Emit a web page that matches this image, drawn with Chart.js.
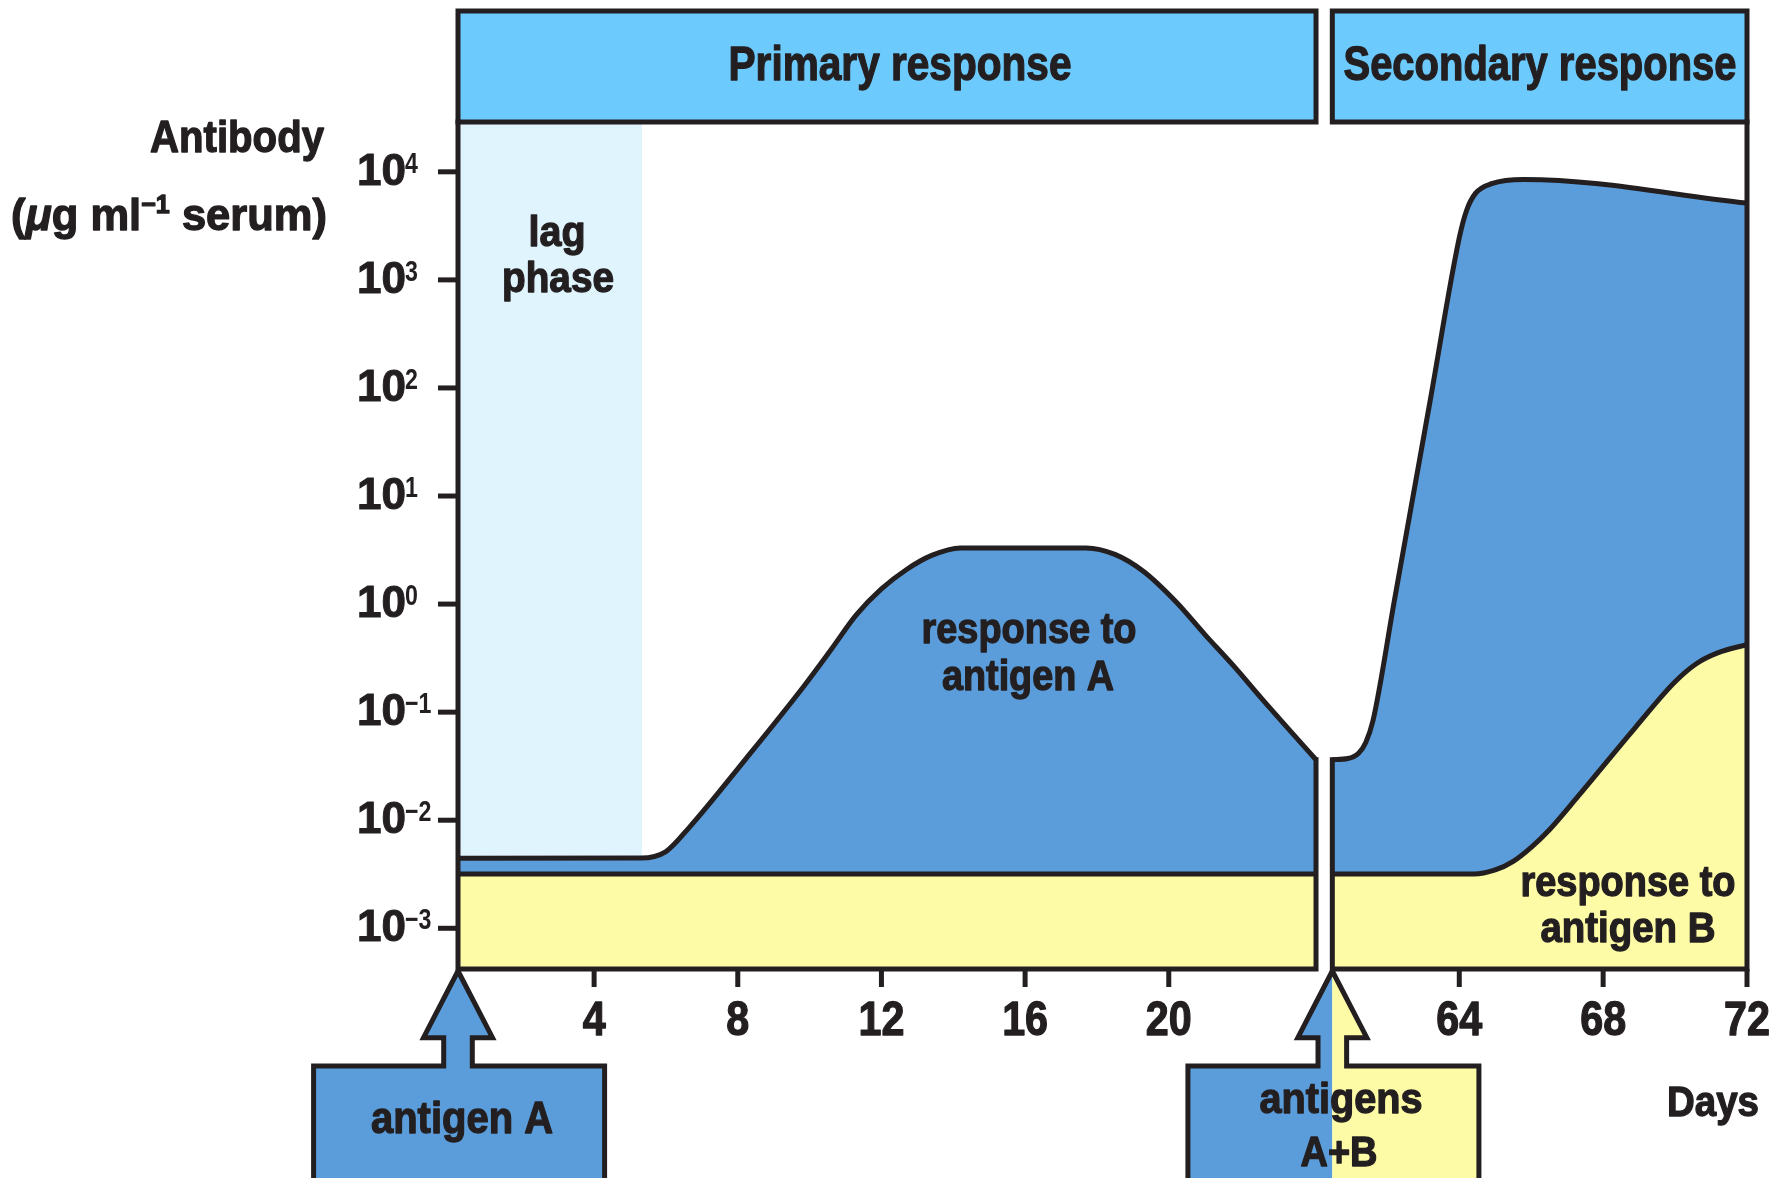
<!DOCTYPE html>
<html>
<head>
<meta charset="utf-8">
<script src="https://cdn.jsdelivr.net/npm/chart.js@4.4.1/dist/chart.umd.min.js"></script>
<style>
  html, body { margin: 0; padding: 0; background: #fff; }
  #wrap { position: relative; width: 1789px; height: 1178px; }
</style>
</head>
<body>
<div id="wrap"><canvas id="chart" width="1789" height="1178"></canvas></div>
<script>
// ---- data (antibody in ug/ml) ----
const primaryDays = [0.21, 5.3, 6.0, 6.64, 8.23, 9.84, 10.6, 11.3, 12.0, 12.7, 13.4, 14.2, 17.7, 18.5, 19.3, 20.2, 21.0, 21.8, 22.6, 23.4, 24.1];
const primaryA = [0.00444, 0.00447, 0.00513, 0.00851, 0.0372, 0.174, 0.380, 0.794, 1.38, 2.09, 2.82, 3.31, 3.31, 2.88, 2.0, 1.05, 0.525, 0.269, 0.132, 0.0661, 0.0363];

const baselineDays = [0.21, 24.1];
const baselineLevel = [0.00318, 0.00318];

const lagDays = [0.21, 5.34];
const lagLevel = [28900, 28900];

const secondaryDays = [60.47, 60.9, 61.2, 61.4, 61.6, 62.2, 63.2, 64.0, 64.2, 64.45, 64.9, 65.8, 72];
const secondaryA = [0.0363, 0.0372, 0.0417, 0.0525, 0.0832, 1.10, 79.4, 2450, 4365, 6310, 7760, 8510, 5130];

const secondaryBDays = [60.47, 64.4, 65.0, 65.5, 66.0, 66.5, 67.3, 68.9, 70.0, 70.6, 71.2, 72];
const secondaryB = [0.00318, 0.00318, 0.00347, 0.00417, 0.00562, 0.00813, 0.0166, 0.0724, 0.191, 0.282, 0.355, 0.422];

const xTicksPrimary = [4, 8, 12, 16, 20];
const xTicksSecondary = [64, 68, 72];
const yTicks = [1e4, 1e3, 1e2, 1e1, 1e0, 1e-1, 1e-2, 1e-3];
const yTickExps = ['4', '3', '2', '1', '0', '\u22121', '\u22122', '\u22123'];

// ---- colours ----
const dark = '#231f20';
const blue = '#5b9ddb';
const yellow = '#fdfba6';
const sky = '#6ccafc';
const lagColor = '#e0f4fd';
const FONT = '"Liberation Sans", Arial, Helvetica, sans-serif';

function pts(xs, ys) {
  return xs.map((x, i) => ({ x: x, y: ys[i] }));
}

// text squeezed to a given width (the original uses a heavy condensed face)
function label(ctx, str, cx, base, size, width, style) {
  ctx.save();
  ctx.font = (style || 'bold') + ' ' + size + 'px ' + FONT;
  const w = ctx.measureText(str).width;
  const sx = width ? width / w : 0.86;
  ctx.translate(cx, base);
  ctx.scale(sx, 1);
  ctx.textAlign = 'center';
  ctx.textBaseline = 'alphabetic';
  ctx.fillStyle = dark;
  ctx.strokeStyle = dark;
  ctx.lineWidth = 1.3;
  ctx.lineJoin = 'round';
  ctx.fillText(str, 0, 0);
  ctx.strokeText(str, 0, 0);
  ctx.restore();
}

function rich(ctx, parts, cx, base, width) {
  let total = 0;
  parts.forEach((p) => {
    ctx.font = p.f;
    p.w = ctx.measureText(p.t).width;
    total += p.w;
  });
  ctx.save();
  ctx.translate(cx - width / 2, base);
  ctx.scale(width / total, 1);
  ctx.fillStyle = dark;
  ctx.strokeStyle = dark;
  ctx.lineWidth = 1.3;
  ctx.lineJoin = 'round';
  ctx.textAlign = 'left';
  ctx.textBaseline = 'alphabetic';
  let x = 0;
  parts.forEach((p) => {
    ctx.font = p.f;
    ctx.fillText(p.t, x, p.dy || 0);
    ctx.strokeText(p.t, x, p.dy || 0);
    x += p.w;
  });
  ctx.restore();
}

function arrowBox(ctx, ax, ay, split) {
  const shape = [[0, 0], [34.5, 66.7], [14.3, 66.7], [14.3, 95], [146.6, 95], [146.6, 240],
    [-144.4, 240], [-144.4, 95], [-14.3, 95], [-14.3, 66.7], [-34.5, 66.7]];
  ctx.save();
  ctx.beginPath();
  shape.forEach((p, i) => {
    if (i === 0) ctx.moveTo(ax + p[0], ay + p[1]);
    else ctx.lineTo(ax + p[0], ay + p[1]);
  });
  ctx.closePath();
  ctx.save();
  ctx.clip();
  ctx.fillStyle = blue;
  ctx.fillRect(ax - 200, ay, split ? 200 : 400, 300);
  if (split) {
    ctx.fillStyle = yellow;
    ctx.fillRect(ax, ay, 200, 300);
  }
  ctx.restore();
  ctx.lineWidth = 5;
  ctx.lineJoin = 'miter';
  ctx.strokeStyle = dark;
  ctx.stroke();
  ctx.restore();
}

const decor = {
  id: 'decor',
  afterDatasetsDraw(chart) {
    const ctx = chart.ctx;
    const ca = chart.chartArea;
    const x1 = chart.scales.x1, x2 = chart.scales.x2, y = chart.scales.y;
    const pL = x1.getPixelForValue(primaryDays[0]);
    const pR = x1.getPixelForValue(primaryDays[primaryDays.length - 1]);
    const sL = x2.getPixelForValue(secondaryDays[0]);
    const sR = x2.getPixelForValue(secondaryDays[secondaryDays.length - 1]);

    ctx.save();
    ctx.strokeStyle = dark;
    ctx.lineWidth = 5;

    // header boxes
    ctx.fillStyle = sky;
    ctx.fillRect(pL, 11, pR - pL, ca.top - 11);
    ctx.strokeRect(pL, 11, pR - pL, ca.top - 11);
    ctx.fillRect(sL, 11, sR - sL, ca.top - 11);
    ctx.strokeRect(sL, 11, sR - sL, ca.top - 11);

    // frame
    ctx.lineCap = 'square';
    ctx.beginPath();
    ctx.moveTo(pL, ca.top); ctx.lineTo(pL, ca.bottom); ctx.lineTo(pR, ca.bottom);
    ctx.lineTo(pR, y.getPixelForValue(primaryA[primaryA.length - 1]));
    ctx.moveTo(sL, y.getPixelForValue(secondaryA[0])); ctx.lineTo(sL, ca.bottom);
    ctx.lineTo(sR, ca.bottom); ctx.lineTo(sR, ca.top);
    ctx.stroke();

    // y ticks: "10" with a raised exponent
    ctx.lineCap = 'butt';
    yTicks.forEach((v, i) => {
      const py = y.getPixelForValue(v);
      ctx.beginPath();
      ctx.moveTo(pL - 20, py); ctx.lineTo(pL, py);
      ctx.stroke();
      ctx.save();
      ctx.fillStyle = dark;
      ctx.strokeStyle = dark;
      ctx.lineWidth = 1;
      ctx.textBaseline = 'alphabetic';
      ctx.font = 'bold 44px ' + FONT;
      ctx.textAlign = 'right';
      ctx.fillText('10', pL - 52, py + 13);
      ctx.strokeText('10', pL - 52, py + 13);
      ctx.translate(pL - 53, py + 1);
      ctx.scale(0.8, 1);
      ctx.font = 'bold 29px ' + FONT;
      ctx.textAlign = 'left';
      ctx.fillText(yTickExps[i], 0, 0);
      ctx.restore();
    });

    // x ticks
    const xt = (scale, d) => {
      const px = scale.getPixelForValue(d);
      ctx.beginPath();
      ctx.moveTo(px, ca.bottom); ctx.lineTo(px, ca.bottom + 18);
      ctx.stroke();
      label(ctx, String(d), px, 1035, 48, null);
    };
    xTicksPrimary.forEach((d) => xt(x1, d));
    xTicksSecondary.forEach((d) => xt(x2, d));
    ctx.restore();

    // arrows with antigen boxes
    arrowBox(ctx, pL, ca.bottom + 2, false);
    arrowBox(ctx, sL, ca.bottom + 2, true);

    // texts
    label(ctx, 'Primary response', 900, 80, 48, 343);
    label(ctx, 'Secondary response', 1540, 80, 48, 393);
    label(ctx, 'Antibody', 237, 152, 45, 174);
    const f45 = 'bold 45px ' + FONT;
    rich(ctx, [
      { t: '(', f: f45 },
      { t: '\u03bc', f: 'italic bold 45px ' + FONT },
      { t: 'g ml', f: f45 },
      { t: '\u22121', f: 'bold 26px ' + FONT, dy: -17 },
      { t: ' serum)', f: f45 }
    ], 169, 230, 316);
    label(ctx, 'lag', 557, 246, 42, 57);
    label(ctx, 'phase', 558, 292, 42, 112);
    label(ctx, 'response to', 1029, 643, 42, 215);
    label(ctx, 'antigen A', 1028, 690, 42, 172);
    label(ctx, 'response to', 1628, 896, 42, 215);
    label(ctx, 'antigen B', 1628, 942, 42, 175);
    label(ctx, 'antigen A', 462, 1133, 44, 182);
    label(ctx, 'antigens', 1341, 1113, 42, 163);
    label(ctx, 'A+B', 1339, 1166, 42, 77);
    label(ctx, 'Days', 1713, 1116, 42, 92);
  }
};

const lineBase = {
  pointRadius: 0,
  borderColor: dark,
  borderWidth: 5,
  borderJoinStyle: 'round',
  cubicInterpolationMode: 'monotone'
};

new Chart(document.getElementById('chart'), {
  type: 'line',
  data: {
    datasets: [
      { ...lineBase, label: 'lag phase', xAxisID: 'x1', data: pts(lagDays, lagLevel),
        fill: 'start', backgroundColor: lagColor, borderWidth: 0, order: 3 },
      { ...lineBase, label: 'baseline', xAxisID: 'x1', data: pts(baselineDays, baselineLevel),
        fill: 'start', backgroundColor: yellow, order: 1 },
      { ...lineBase, label: 'response to antigen A', xAxisID: 'x1', data: pts(primaryDays, primaryA),
        fill: 1, backgroundColor: blue, order: 2 },
      { ...lineBase, label: 'response to antigen B', xAxisID: 'x2', data: pts(secondaryBDays, secondaryB),
        fill: 'start', backgroundColor: yellow, order: 1 },
      { ...lineBase, label: 'secondary response to antigen A', xAxisID: 'x2', data: pts(secondaryDays, secondaryA),
        fill: 3, backgroundColor: blue, order: 2 }
    ]
  },
  options: {
    responsive: false,
    animation: false,
    devicePixelRatio: 1,
    layout: { padding: { left: 458, right: 42, top: 122, bottom: 209 } },
    plugins: { legend: { display: false }, tooltip: { enabled: false } },
    scales: {
      x1: { type: 'linear', min: 0.21, max: 36.1, bounds: 'data', display: false },
      x2: { type: 'linear', min: 36.16, max: 72, bounds: 'data', display: false },
      y: { type: 'logarithmic', min: 0.00042, max: 28900, bounds: 'data', display: false }
    }
  },
  plugins: [decor]
});
</script>
</body>
</html>
